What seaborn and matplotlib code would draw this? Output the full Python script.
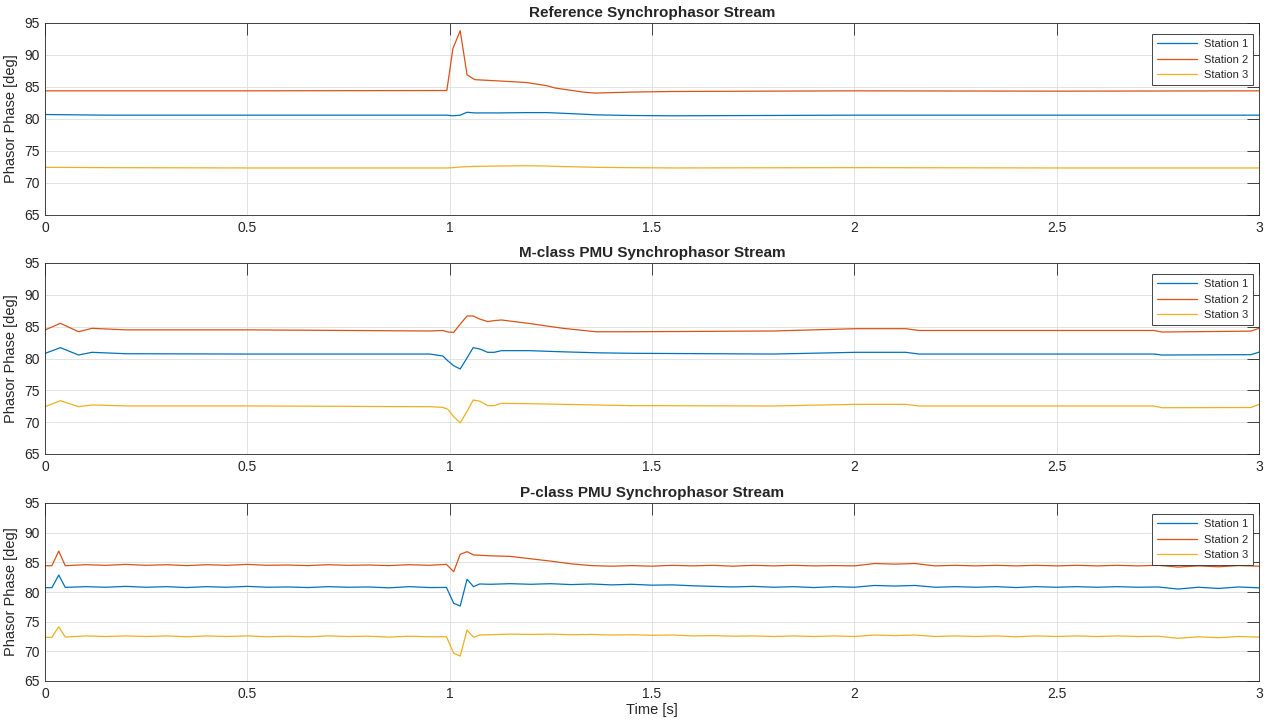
import numpy as np
import pandas as pd
import matplotlib
matplotlib.use("Agg")
import matplotlib.pyplot as plt
import seaborn as sns
from matplotlib.ticker import FuncFormatter

# ---------------- data ----------------
stations = ["Station 1", "Station 2", "Station 3"]
colors = ["#0072BD", "#D95319", "#EDB120"]
titles = ["Reference Synchrophasor Stream",
          "M-class PMU Synchrophasor Stream",
          "P-class PMU Synchrophasor Stream"]

# Reference stream
t_ref = [0, 0.15, 0.5, 0.993, 1.008, 1.026, 1.043, 1.062, 1.12, 1.19, 1.24,
         1.26, 1.33, 1.36, 1.445, 1.55, 2.0, 2.5, 3.0]
ref_s1 = [80.7, 80.6, 80.6, 80.6, 80.5, 80.6, 81.05, 80.95, 80.95, 81.0, 81.0,
          80.95, 80.75, 80.65, 80.55, 80.5, 80.6, 80.6, 80.6]
ref_s2 = [84.4, 84.4, 84.4, 84.45, 91.0, 93.8, 86.9, 86.15, 85.95, 85.7, 85.2,
          84.85, 84.2, 84.05, 84.2, 84.3, 84.4, 84.35, 84.4]
ref_s3 = [72.45, 72.4, 72.35, 72.35, 72.4, 72.5, 72.55, 72.6, 72.65, 72.7, 72.65,
          72.6, 72.5, 72.45, 72.4, 72.35, 72.4, 72.35, 72.35]

# M-class stream
t_m = [0, 0.038, 0.083, 0.116, 0.2, 0.5, 0.951, 0.983, 0.996, 1.010, 1.026,
       1.043, 1.058, 1.074, 1.094, 1.11, 1.128, 1.197, 1.28, 1.362, 1.444,
       1.8, 2.002, 2.127, 2.16, 2.5, 2.74, 2.76, 2.98, 3.0]
m_s1 = [80.8, 81.7, 80.55, 80.97, 80.75, 80.7, 80.7, 80.4, 79.6, 78.87, 78.35,
        80.1, 81.7, 81.5, 80.97, 80.97, 81.23, 81.23, 81.05, 80.9, 80.82,
        80.7, 80.97, 80.97, 80.7, 80.7, 80.7, 80.55, 80.6, 81.0]
m_s2 = [84.48, 85.53, 84.2, 84.74, 84.5, 84.5, 84.32, 84.4, 84.16, 84.1, 85.4,
        86.68, 86.68, 86.2, 85.8, 85.95, 86.05, 85.5, 84.74, 84.2, 84.2,
        84.32, 84.68, 84.68, 84.4, 84.4, 84.4, 84.16, 84.3, 84.74]
m_s3 = [72.43, 73.37, 72.43, 72.7, 72.55, 72.55, 72.43, 72.33, 72.0, 70.86, 69.9,
        71.7, 73.48, 73.3, 72.6, 72.6, 72.96, 72.9, 72.8, 72.7, 72.6,
        72.54, 72.8, 72.8, 72.54, 72.54, 72.54, 72.27, 72.3, 72.8]

# P-class stream
t_p = ([0, 0.017, 0.034, 0.05]
       + [0.1, 0.15, 0.2, 0.25, 0.3, 0.35, 0.4, 0.45, 0.5, 0.55, 0.6, 0.65,
          0.7, 0.75, 0.8, 0.85, 0.9, 0.95]
       + [0.992, 1.01, 1.026, 1.043, 1.059, 1.074]
       + [1.1, 1.15, 1.2, 1.25, 1.3, 1.35, 1.4, 1.45, 1.5, 1.55, 1.6, 1.65,
          1.7, 1.75, 1.8, 1.85, 1.9, 1.95, 2.0, 2.05, 2.1, 2.15, 2.2, 2.25,
          2.3, 2.35, 2.4, 2.45, 2.5, 2.55, 2.6, 2.65, 2.7, 2.75, 2.8, 2.85,
          2.9, 2.95, 3.0])
p_s1 = ([80.73, 80.73, 82.86, 80.78]
        + [80.9, 80.8, 80.95, 80.8, 80.9, 80.75, 80.9, 80.8, 80.95, 80.8, 80.85,
           80.75, 80.9, 80.8, 80.85, 80.7, 80.9, 80.75]
        + [80.77, 78.1, 77.64, 82.14, 80.9, 81.35]
        + [81.3, 81.4, 81.3, 81.4, 81.25, 81.35, 81.2, 81.3, 81.15, 81.2, 81.05,
           80.95, 80.85, 80.95, 80.8, 80.9, 80.75, 80.9, 80.8, 81.1, 81.0, 81.1,
           80.8, 80.9, 80.8, 80.9, 80.75, 80.9, 80.8, 80.9, 80.8, 80.9, 80.8,
           80.85, 80.5, 80.8, 80.6, 80.85, 80.7])
p_s2 = ([84.43, 84.43, 86.9, 84.43]
        + [84.6, 84.5, 84.65, 84.5, 84.6, 84.45, 84.6, 84.5, 84.65, 84.5, 84.55,
           84.45, 84.6, 84.5, 84.55, 84.45, 84.6, 84.5]
        + [84.66, 83.42, 86.35, 86.8, 86.24, 86.2]
        + [86.1, 86.0, 85.6, 85.2, 84.75, 84.45, 84.35, 84.45, 84.35, 84.5, 84.4,
           84.5, 84.35, 84.5, 84.4, 84.5, 84.4, 84.45, 84.4, 84.8, 84.7, 84.8,
           84.4, 84.5, 84.4, 84.5, 84.4, 84.5, 84.4, 84.5, 84.4, 84.5, 84.4,
           84.5, 84.2, 84.4, 84.25, 84.45, 84.35])
p_s3 = ([72.36, 72.36, 74.15, 72.4]
        + [72.6, 72.5, 72.6, 72.5, 72.6, 72.45, 72.6, 72.5, 72.6, 72.45, 72.55,
           72.45, 72.6, 72.5, 72.55, 72.4, 72.55, 72.45]
        + [72.47, 69.67, 69.2, 73.6, 72.36, 72.75]
        + [72.8, 72.9, 72.85, 72.9, 72.8, 72.85, 72.75, 72.8, 72.7, 72.75, 72.6,
           72.65, 72.55, 72.6, 72.5, 72.6, 72.5, 72.6, 72.5, 72.75, 72.65, 72.75,
           72.5, 72.6, 72.5, 72.6, 72.45, 72.6, 72.5, 72.6, 72.5, 72.6, 72.5,
           72.55, 72.2, 72.45, 72.3, 72.5, 72.4])

panels = [(t_ref, [ref_s1, ref_s2, ref_s3]),
          (t_m, [m_s1, m_s2, m_s3]),
          (t_p, [p_s1, p_s2, p_s3])]

x_ticks = [0, 0.5, 1, 1.5, 2, 2.5, 3]
y_ticks = [65, 70, 75, 80, 85, 90, 95]

# ---------------- style ----------------
sns.set_style("white")
plt.rcParams["font.family"] = ["Liberation Sans", "DejaVu Sans"]
dark = "#262626"
plt.rcParams.update({
    "text.color": dark, "axes.labelcolor": dark,
    "xtick.color": dark, "ytick.color": dark,
    "axes.edgecolor": dark,
})

W, H = 1279, 726
fig = plt.figure(figsize=(W / 100, H / 100), dpi=100)

# axes boxes in pixels (left, top, right, bottom)
boxes = [(45, 23, 1259, 215), (45, 263, 1259, 454), (45, 503, 1259, 681)]

for i, ((t, series), (l, tp, r, b)) in enumerate(zip(panels, boxes)):
    ax = fig.add_axes([l / W, 1 - b / H, (r - l) / W, (b - tp) / H])
    frames = []
    for name, vals in zip(stations, series):
        assert len(vals) == len(t)
        frames.append(pd.DataFrame({"Time": t, "Phase": vals, "Station": name}))
    df = pd.concat(frames, ignore_index=True)
    sns.lineplot(data=df, x="Time", y="Phase", hue="Station",
                 palette=colors, estimator=None, linewidth=0.9, ax=ax)
    ax.set_xlim(0, 3)
    ax.set_ylim(65, 95)
    ax.set_xticks(x_ticks)
    ax.set_yticks(y_ticks)
    ax.xaxis.set_major_formatter(FuncFormatter(lambda v, p: f"{v:g}"))
    ax.grid(True, color="#dedede", linewidth=0.6)
    ax.set_axisbelow(True)
    for s in ax.spines.values():
        s.set_linewidth(0.6)
        s.set_color(dark)
    ax.tick_params(direction="in", length=8.6, width=0.6, top=True, right=True,
                   labelsize=10, pad=4)
    ax.set_ylabel("Phasor Phase [deg]", fontsize=10.5, labelpad=4)
    if i == 2:
        ax.set_xlabel("Time [s]", fontsize=10.5, labelpad=2)
    else:
        ax.set_xlabel("")
    ax.set_title(titles[i], fontsize=11, fontweight="bold", pad=4)
    handles, labels = ax.get_legend_handles_labels()
    hpx = b - tp
    leg = ax.legend(handles, labels, loc="upper right", fontsize=8,
                    frameon=True, fancybox=False, framealpha=1,
                    edgecolor=dark, handlelength=3.6, labelspacing=0.5,
                    borderpad=0.45, handletextpad=0.6, borderaxespad=0,
                    bbox_to_anchor=((1253 - l) / (r - l), 1 - 11 / hpx))
    leg.get_frame().set_linewidth(0.6)

fig.savefig("out.png", dpi=100)
